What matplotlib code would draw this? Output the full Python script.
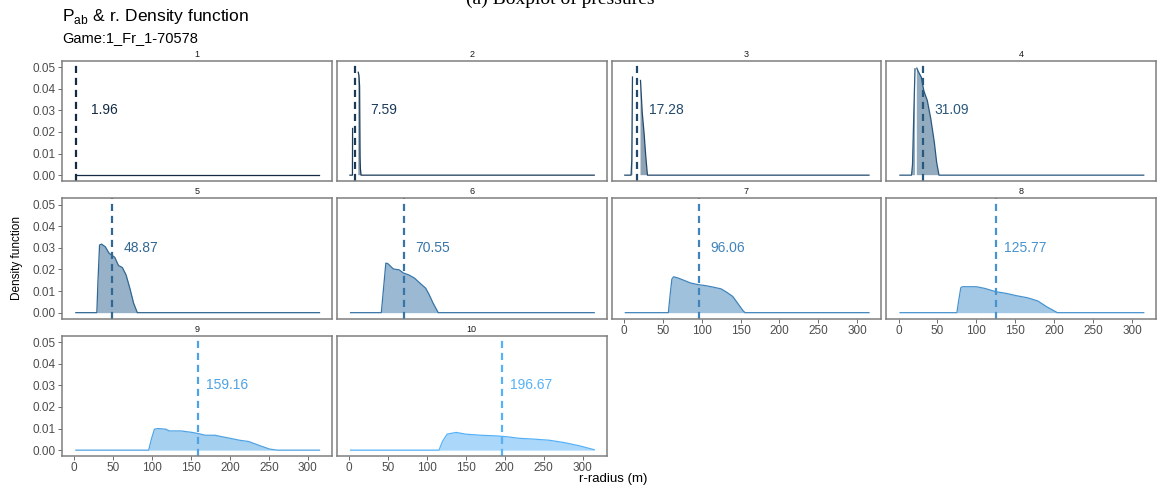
import numpy as np
import matplotlib
matplotlib.use("Agg")
import matplotlib.pyplot as plt
from matplotlib.colors import to_rgb

plt.rcParams['font.family'] = ['Liberation Sans', 'DejaVu Sans']
plt.rcParams['mathtext.fontset'] = 'custom'
plt.rcParams['mathtext.rm'] = 'Liberation Sans'

nan = np.nan

# panel means (dashed line + label)
means = [1.96, 7.59, 17.28, 31.09, 48.87, 70.55, 96.06, 125.77, 159.16, 196.67]

# density curves (nan = value dropped by the y limits)
r1 = [3, 315]
d1 = [0, 0]
r2 = [1.2, 4.4, 4.6, 5.0, 11.9, 12.8, 13.6, 14.2, 14.6, 15.5, 315]
d2 = [0, 0, 0.0216, nan, 0.0476, 0.046, 0.041, 0.0086, 0.003, 0, 0]
r3 = [1.3, 9.4, 10.3, 11.2, 12.0, 21.5, 23.7, 26.0, 28.2, 30.4, 315]
d3 = [0, 0, 0.0067, 0.0454, nan, 0.0438, 0.029, 0.0198, 0.009, 0, 0]
r4 = [1.8, 16.7, 18.0, 19.8, 21.2, 22.3, 23.5, 25.7, 29.3, 32.5, 37.0, 41.5, 46.0, 49.0, 52.0, 315]
d4 = [0, 0, 0.005, 0.0306, 0.0492, nan, 0.0495, 0.0477, 0.0453, 0.039, 0.0345, 0.026, 0.0152, 0.0059, 0, 0]
r5 = [2, 29.0, 30.5, 32.5, 35.0, 39.8, 44.7, 52.0, 56.8, 61.7, 66.5, 71.4, 76.2, 81.0, 315]
d5 = [0, 0, 0.015, 0.0313, 0.0317, 0.0305, 0.0275, 0.0256, 0.0218, 0.0209, 0.0175, 0.0113, 0.0044, 0, 0]
r6 = [2, 41.5, 44.0, 47.3, 49.8, 57.0, 64.4, 70.0, 76.6, 84.0, 91.0, 98.5, 103.0, 108.0, 114.6, 315]
d6 = [0, 0, 0.0098, 0.0229, 0.0227, 0.0202, 0.0198, 0.0183, 0.0175, 0.016, 0.0137, 0.0113, 0.0083, 0.0044, 0, 0]
r7 = [2, 57.3, 59.5, 61.8, 64.0, 70.0, 77.0, 86.0, 95.0, 105.0, 115.0, 125.0, 132.0, 140.0, 147.0, 153.0, 155.8, 315]
d7 = [0, 0, 0.008, 0.0155, 0.0166, 0.016, 0.015, 0.0137, 0.013, 0.0125, 0.0118, 0.011, 0.0095, 0.0075, 0.004, 0.001, 0, 0]
r8 = [2, 75.0, 77.5, 80.0, 82.0, 100.0, 111.0, 125.0, 138.5, 152.0, 165.5, 179.0, 190.0, 201.6, 204.0, 315]
d8 = [0, 0, 0.006, 0.0115, 0.012, 0.012, 0.0112, 0.0097, 0.0089, 0.0078, 0.0069, 0.0054, 0.0028, 0.0005, 0, 0]
r9 = [2, 95.6, 99.0, 103.0, 107.8, 117.5, 122.0, 137.0, 151.5, 158.7, 168.4, 180.6, 190.0, 200.0, 212.0, 224.0, 239.0, 251.0, 260.7, 315]
d9 = [0, 0, 0.005, 0.0097, 0.01, 0.0097, 0.0089, 0.0089, 0.0082, 0.0077, 0.0069, 0.0069, 0.0062, 0.0055, 0.0046, 0.004, 0.002, 0.0005, 0, 0]
r10 = [2, 115.6, 120.0, 126.0, 137.6, 150.0, 169.0, 189.0, 203.0, 218.0, 237.6, 257.0, 276.6, 296.0, 315]
d10 = [0, 0, 0.004, 0.0074, 0.0082, 0.0074, 0.0069, 0.0066, 0.0062, 0.0055, 0.0051, 0.0046, 0.0035, 0.002, 0.0002]

radii = [r1, r2, r3, r4, r5, r6, r7, r8, r9, r10]
dens = [d1, d2, d3, d4, d5, d6, d7, d8, d9, d10]

xticks = [0, 50, 100, 150, 200, 250, 300]
yticks = [0.00, 0.01, 0.02, 0.03, 0.04, 0.05]

low = np.array(to_rgb('#132B43'))
high = np.array(to_rgb('#56B1F7'))

W, H = 1157, 486
fig = plt.figure(figsize=(W / 100, H / 100), dpi=100)

lefts = [62, 336.75, 611.5, 886.25]
tops = [61, 198.5, 336]
pw, ph = 269.75, 120

for i in range(10):
    row, col = divmod(i, 4)
    ax = fig.add_axes([lefts[col] / W, 1 - (tops[row] + ph) / H, pw / W, ph / H])
    c = low + (high - low) * i / 9
    x = np.array(radii[i], dtype=float)
    y = np.array(dens[i], dtype=float)
    ax.fill_between(x, y, 0, where=~np.isnan(y), color=c, alpha=0.5, lw=0)
    ax.plot(x, y, color=c, lw=0.9)
    ax.axvline(means[i], color=c, lw=1.6, ls=(0, (3.2, 2.2)))
    ax.text(means[i] + 37, 0.03, f'{means[i]:.2f}', color=c, fontsize=10,
            ha='center', va='center')
    ax.set_xlim(-15.75, 330.75)
    ax.set_ylim(-0.0027, 0.0528)
    for s in ax.spines.values():
        s.set_color('#7f7f7f')
        s.set_linewidth(1.1)
    ax.tick_params(length=3, width=0.6, color='#555555', labelcolor='#4d4d4d',
                   labelsize=8.5, pad=1.5)
    ax.set_xticks(xticks)
    ax.set_yticks(yticks)
    if col == 0:
        ax.set_yticklabels([f'{v:.2f}' for v in yticks])
    else:
        ax.tick_params(axis='y', left=False, labelleft=False)
    if i >= 6:
        ax.set_xticklabels([str(v) for v in xticks])
    else:
        ax.tick_params(axis='x', bottom=False, labelbottom=False)
    ax.set_title(str(i + 1), fontsize=6.5, color='#1a1a1a', pad=3)

fig.text(62 / W, 1 - 17 / H, r'P$_{\mathrm{ab}}$ & r. Density function', fontsize=12.5,
         ha='left', va='center')
fig.text(62 / W, 1 - 38 / H, 'Game:1_Fr_1-70578', fontsize=10.5, ha='left', va='center')
fig.text(17 / W, 1 - 258 / H, 'Density function', rotation=90, fontsize=8.5,
         family=['Liberation Sans Narrow', 'Liberation Sans'], ha='center', va='center')
fig.text(613 / W, 1 / H, 'r-radius (m)', fontsize=9.5, ha='center', va='bottom')
# caption of the figure above, cut by the top edge
fig.text(560 / W, 1 - 4 / H, '(a) Boxplot of pressures', fontsize=14,
         family=['Liberation Serif', 'DejaVu Serif'], ha='center', va='baseline')

fig.savefig('out.png', dpi=100)
